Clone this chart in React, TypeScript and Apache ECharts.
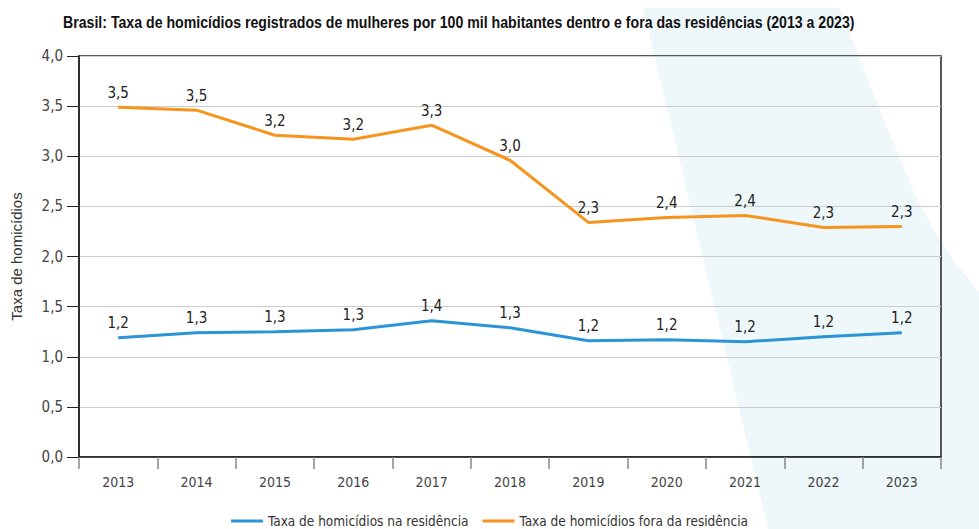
import React, { useEffect, useRef } from "react";
import * as echarts from "echarts";

const titleText =
  "Brasil: Taxa de homicídios registrados de mulheres por 100 mil habitantes dentro e fora das residências (2013 a 2023)";
const yAxisName = "Taxa de homicídios";
const years = ["2013", "2014", "2015", "2016", "2017", "2018", "2019", "2020", "2021", "2022", "2023"];
const seriesNaName = "Taxa de homicídios na residência";
const seriesForaName = "Taxa de homicídios fora da residência";
const valuesNa = [1.19, 1.24, 1.25, 1.27, 1.36, 1.29, 1.16, 1.17, 1.15, 1.2, 1.24];
const valuesFora = [3.49, 3.46, 3.21, 3.17, 3.31, 2.96, 2.34, 2.39, 2.41, 2.29, 2.3];
const labelsNa = ["1,2", "1,3", "1,3", "1,3", "1,4", "1,3", "1,2", "1,2", "1,2", "1,2", "1,2"];
const labelsFora = ["3,5", "3,5", "3,2", "3,2", "3,3", "3,0", "2,3", "2,4", "2,4", "2,3", "2,3"];

const NARROW = "'DejaVu Sans Condensed', 'Liberation Sans', sans-serif";
const SANS = "'Liberation Sans', Arial, sans-serif";
const TITLE_FONT = "'Liberation Sans', Arial, sans-serif";

function measure(text: string, font: string): number {
  const c = document.createElement("canvas");
  const ctx = c.getContext("2d");
  if (!ctx) return text.length * 8;
  ctx.font = font;
  return ctx.measureText(text).width;
}

export default function App() {
  const ref = useRef<HTMLDivElement>(null);
  useEffect(() => {
    if (!ref.current) return;
    const chart = echarts.init(ref.current, undefined, { renderer: "svg" });
    const titleSize = 17;
    const titleW = measure(titleText, `bold ${titleSize}px ${TITLE_FONT}`);
    const titleScale = Math.min(1, 792 / titleW);
    const labelStyle = (labels: string[]) => ({
      show: true,
      position: "top" as const,
      distance: 7,
      fontFamily: NARROW,
      fontSize: 15,
      color: "#222",
      formatter: (p: any) => labels[p.dataIndex],
    });
    chart.setOption({
      animation: false,
      backgroundColor: "#ffffff",
      graphic: [
        {
          type: "polygon",
          z: -10,
          silent: true,
          shape: {
            points: [
              [643, 8],
              [840, 8],
              [880, 110],
              [915, 195],
              [935, 232],
              [955, 262],
              [979, 292],
              [979, 529],
              [768, 529],
            ],
          },
          style: { fill: "#eef7fa" },
        },
        {
          type: "text",
          x: 63,
          y: 22,
          scaleX: titleScale,
          scaleY: 1,
          silent: true,
          style: {
            text: titleText,
            font: `bold ${titleSize}px ${TITLE_FONT}`,
            fill: "#111",
            textAlign: "left",
            textVerticalAlign: "middle",
          },
        },
      ],
      legend: {
        top: 509,
        left: "center",
        icon: "rect",
        itemWidth: 32,
        itemHeight: 3,
        itemGap: 14,
        textStyle: { fontFamily: NARROW, fontSize: 13.5, color: "#333" },
        data: [seriesNaName, seriesForaName],
      },
      grid: {
        left: 79,
        right: 38,
        top: 56,
        bottom: 72,
        show: true,
        borderColor: "#222",
        borderWidth: 1.5,
        backgroundColor: "transparent",
      },
      xAxis: {
        type: "category",
        data: years,
        boundaryGap: true,
        axisLine: { show: true, lineStyle: { color: "#222", width: 1.5 } },
        axisTick: { show: true, length: 12, inside: false, lineStyle: { color: "#888", width: 1.5 } },
        axisLabel: { margin: 18, fontFamily: NARROW, fontSize: 14, color: "#444" },
        splitLine: { show: false },
      },
      yAxis: {
        type: "value",
        min: 0,
        max: 4,
        interval: 0.5,
        name: yAxisName,
        nameLocation: "middle",
        nameGap: 55,
        nameTextStyle: { fontFamily: SANS, fontSize: 15, color: "#333" },
        axisLine: { show: true, lineStyle: { color: "#222", width: 1.5 } },
        axisTick: { show: true, length: 12, lineStyle: { color: "#222", width: 1 } },
        axisLabel: {
          margin: 16,
          fontFamily: NARROW,
          fontSize: 15,
          color: "#444",
          formatter: (v: number) => v.toFixed(1).replace(".", ","),
        },
        splitLine: { show: true, lineStyle: { color: "#cccccc", width: 1 } },
      },
      series: [
        {
          name: seriesNaName,
          type: "line",
          data: valuesNa,
          showSymbol: true,
          symbol: "circle",
          symbolSize: 0,
          color: "#2a94d6",
          lineStyle: { width: 3, color: "#2a94d6" },
          label: labelStyle(labelsNa),
          z: 3,
        },
        {
          name: seriesForaName,
          type: "line",
          data: valuesFora,
          showSymbol: true,
          symbol: "circle",
          symbolSize: 0,
          color: "#f7941e",
          lineStyle: { width: 3, color: "#f7941e" },
          label: labelStyle(labelsFora),
          z: 3,
        },
      ],
    });
    return () => chart.dispose();
  }, []);
  return (
    <div
      ref={ref}
      style={{ position: "fixed", left: 0, top: 0, width: 979, height: 529 }}
    />
  );
}
